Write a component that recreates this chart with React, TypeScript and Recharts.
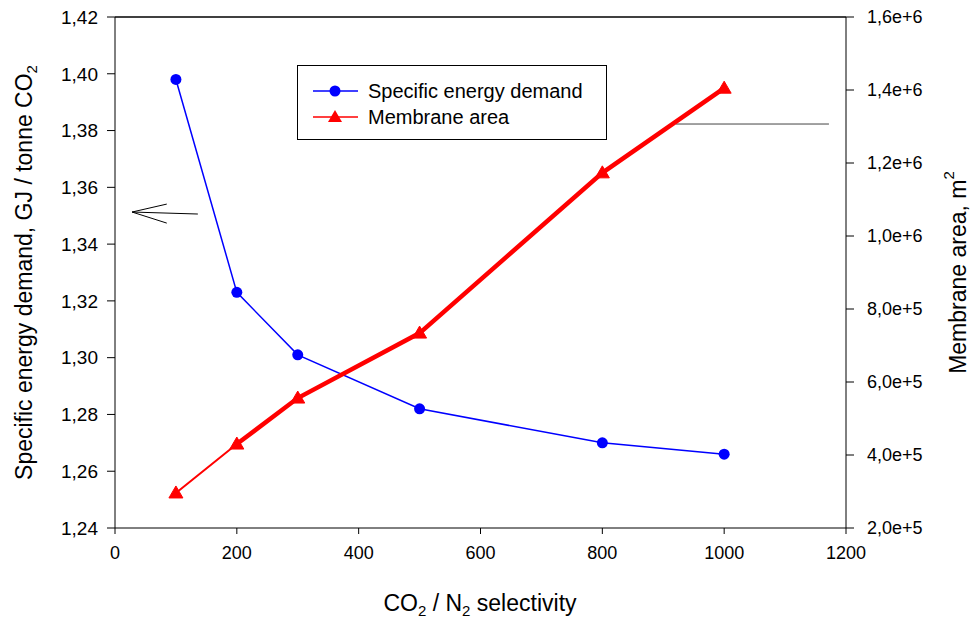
import React from "react";
import { LineChart, Line, XAxis, YAxis, ReferenceLine } from "recharts";

// CO2/N2 selectivity values where the runs were made
const selectivity = [100, 200, 300, 500, 800, 1000];
// specific energy demand, GJ / tonne CO2
const energyDemand = [1.398, 1.323, 1.301, 1.282, 1.270, 1.266];
// membrane area, m2
const membraneArea = [296000, 430000, 556000, 734000, 1173000, 1405000];

const xTicks = [0, 200, 400, 600, 800, 1000, 1200];
const leftTicks = [1.24, 1.26, 1.28, 1.3, 1.32, 1.34, 1.36, 1.38, 1.4, 1.42];
const rightTicks = [200000, 400000, 600000, 800000, 1000000, 1200000, 1400000, 1600000];

const legendLabels = ["Specific energy demand", "Membrane area"];

// annotation arrows (data coords: selectivity, energy demand)
const leftArrowShaft = [{ x: 136, y: 1.3506 }, { x: 28, y: 1.3513 }];
const leftArrowHeadUp = [{ x: 28, y: 1.3513 }, { x: 85, y: 1.3541 }];
const leftArrowHeadDown = [{ x: 28, y: 1.3513 }, { x: 85, y: 1.3474 }];
const rightPointer = [{ x: 921, y: 1.3823 }, { x: 1172, y: 1.3823 }];

const data = selectivity.map((s, i) => ({
  sel: s,
  energy: energyDemand[i],
  area: membraneArea[i],
  // the membrane curve is drawn over itself from 200 on, so it looks heavier there
  areaRepeat: s >= 200 ? membraneArea[i] : null,
}));

const FONT = "'Liberation Sans', Arial, sans-serif";

const fmtLeft = (v: number) => v.toFixed(2).replace(".", ",");
const fmtRight = (v: number) => {
  const exp = Math.floor(Math.log10(v));
  const mant = v / Math.pow(10, exp);
  return `${mant.toFixed(1).replace(".", ",")}e+${exp}`;
};

const Triangle = (props: any) => {
  const { cx, cy } = props;
  if (cx == null || cy == null) return null;
  return (
    <polygon
      points={`${cx},${cy - 7} ${cx - 7},${cy + 5} ${cx + 7},${cy + 5}`}
      fill="#ff0000"
      stroke="#ff0000"
    />
  );
};

const LeftTitle = (props: any) => {
  const vb = props.viewBox || {};
  const cx = 24;
  const cy = vb.y + vb.height / 2;
  return (
    <text
      x={cx}
      y={cy}
      transform={`rotate(-90, ${cx}, ${cy})`}
      textAnchor="middle"
      dominantBaseline="central"
      fontSize={23}
      fontFamily={FONT}
      fill="#000"
    >
      Specific energy demand, GJ / tonne CO
      <tspan fontSize={15} dy={7}>2</tspan>
    </text>
  );
};

const RightTitle = (props: any) => {
  const vb = props.viewBox || {};
  const cx = 958;
  const cy = vb.y + vb.height / 2;
  return (
    <text
      x={cx}
      y={cy}
      transform={`rotate(-90, ${cx}, ${cy})`}
      textAnchor="middle"
      dominantBaseline="central"
      fontSize={23}
      fontFamily={FONT}
      fill="#000"
    >
      Membrane area, m
      <tspan fontSize={15} dy={-10}>2</tspan>
    </text>
  );
};

const BottomTitle = () => {
  const cx = 480;
  const cy = 603;
  return (
    <text
      x={cx}
      y={cy}
      textAnchor="middle"
      dominantBaseline="central"
      fontSize={23}
      fontFamily={FONT}
      fill="#000"
    >
      CO<tspan fontSize={15} dy={7}>2</tspan>
      <tspan dy={-7}> / N</tspan>
      <tspan fontSize={15} dy={7}>2</tspan>
      <tspan dy={-7}> selectivity</tspan>
    </text>
  );
};

const LegendBox = () => {
  const colors = ["#0000ff", "#ff0000"];
  return (
    <div
      style={{
        position: "absolute",
        left: 297,
        top: 65,
        width: 310,
        height: 75,
        border: "1.5px solid #000",
        background: "#fff",
        fontFamily: FONT,
        fontSize: 20,
        paddingTop: 12,
        boxSizing: "border-box",
      }}
    >
      {legendLabels.map((label, i) => (
        <div key={label} style={{ display: "flex", alignItems: "center", height: 26 }}>
          <svg width={58} height={20} style={{ marginLeft: 12 }}>
            <line x1={3} y1={10} x2={48} y2={10} stroke={colors[i]} strokeWidth={1.5} />
            {i === 0 ? (
              <circle cx={25} cy={10} r={5.5} fill={colors[i]} />
            ) : (
              <polygon points="25,3 18,15 32,15" fill={colors[i]} />
            )}
          </svg>
          <span style={{ color: "#000" }}>{label}</span>
        </div>
      ))}
    </div>
  );
};

export default function App() {
  return (
    <div style={{ position: "absolute", left: 0, top: 0, width: 971, height: 617, background: "#fff" }}>
      <LineChart
        width={971}
        height={617}
        data={data}
        margin={{ top: 17, right: 0, bottom: 0, left: 0 }}
      >
        <XAxis
          dataKey="sel"
          type="number"
          domain={[0, 1200]}
          ticks={xTicks}
          height={89}
          stroke="#000"
          tickSize={6}
          tickMargin={12}
          tick={{ fill: "#000", fontSize: 18, fontFamily: FONT }}
          label={<BottomTitle />}
        />
        <YAxis
          yAxisId="left"
          domain={[1.24, 1.42]}
          ticks={leftTicks}
          width={115}
          stroke="#000"
          tickSize={8}
          tickMargin={9}
          tickFormatter={fmtLeft}
          tick={{ fill: "#000", fontSize: 19, fontFamily: FONT }}
          label={<LeftTitle />}
        />
        <YAxis
          yAxisId="right"
          orientation="right"
          domain={[200000, 1600000]}
          ticks={rightTicks}
          width={125}
          stroke="#000"
          tickSize={8}
          tickMargin={13}
          tickFormatter={fmtRight}
          tick={{ fill: "#000", fontSize: 18, fontFamily: FONT, textAnchor: "start" }}
          label={<RightTitle />}
        />
        <ReferenceLine yAxisId="left" y={1.42} stroke="#000" strokeWidth={1.5} />
        <ReferenceLine yAxisId="left" segment={leftArrowShaft} stroke="#000" strokeWidth={1} />
        <ReferenceLine yAxisId="left" segment={leftArrowHeadUp} stroke="#000" strokeWidth={1} />
        <ReferenceLine yAxisId="left" segment={leftArrowHeadDown} stroke="#000" strokeWidth={1} />
        <ReferenceLine yAxisId="left" segment={rightPointer} stroke="#444" strokeWidth={1} />
        <Line
          yAxisId="left"
          dataKey="energy"
          stroke="#0000ff"
          strokeWidth={1.5}
          dot={{ r: 5.5, fill: "#0000ff", stroke: "#0000ff", strokeWidth: 0 }}
          isAnimationActive={false}
        />
        <Line
          yAxisId="right"
          dataKey="areaRepeat"
          stroke="#ff0000"
          strokeWidth={4.5}
          dot={false}
          legendType="none"
          isAnimationActive={false}
        />
        <Line
          yAxisId="right"
          dataKey="area"
          stroke="#ff0000"
          strokeWidth={2}
          dot={<Triangle />}
          isAnimationActive={false}
        />
      </LineChart>
      <LegendBox />
    </div>
  );
}
